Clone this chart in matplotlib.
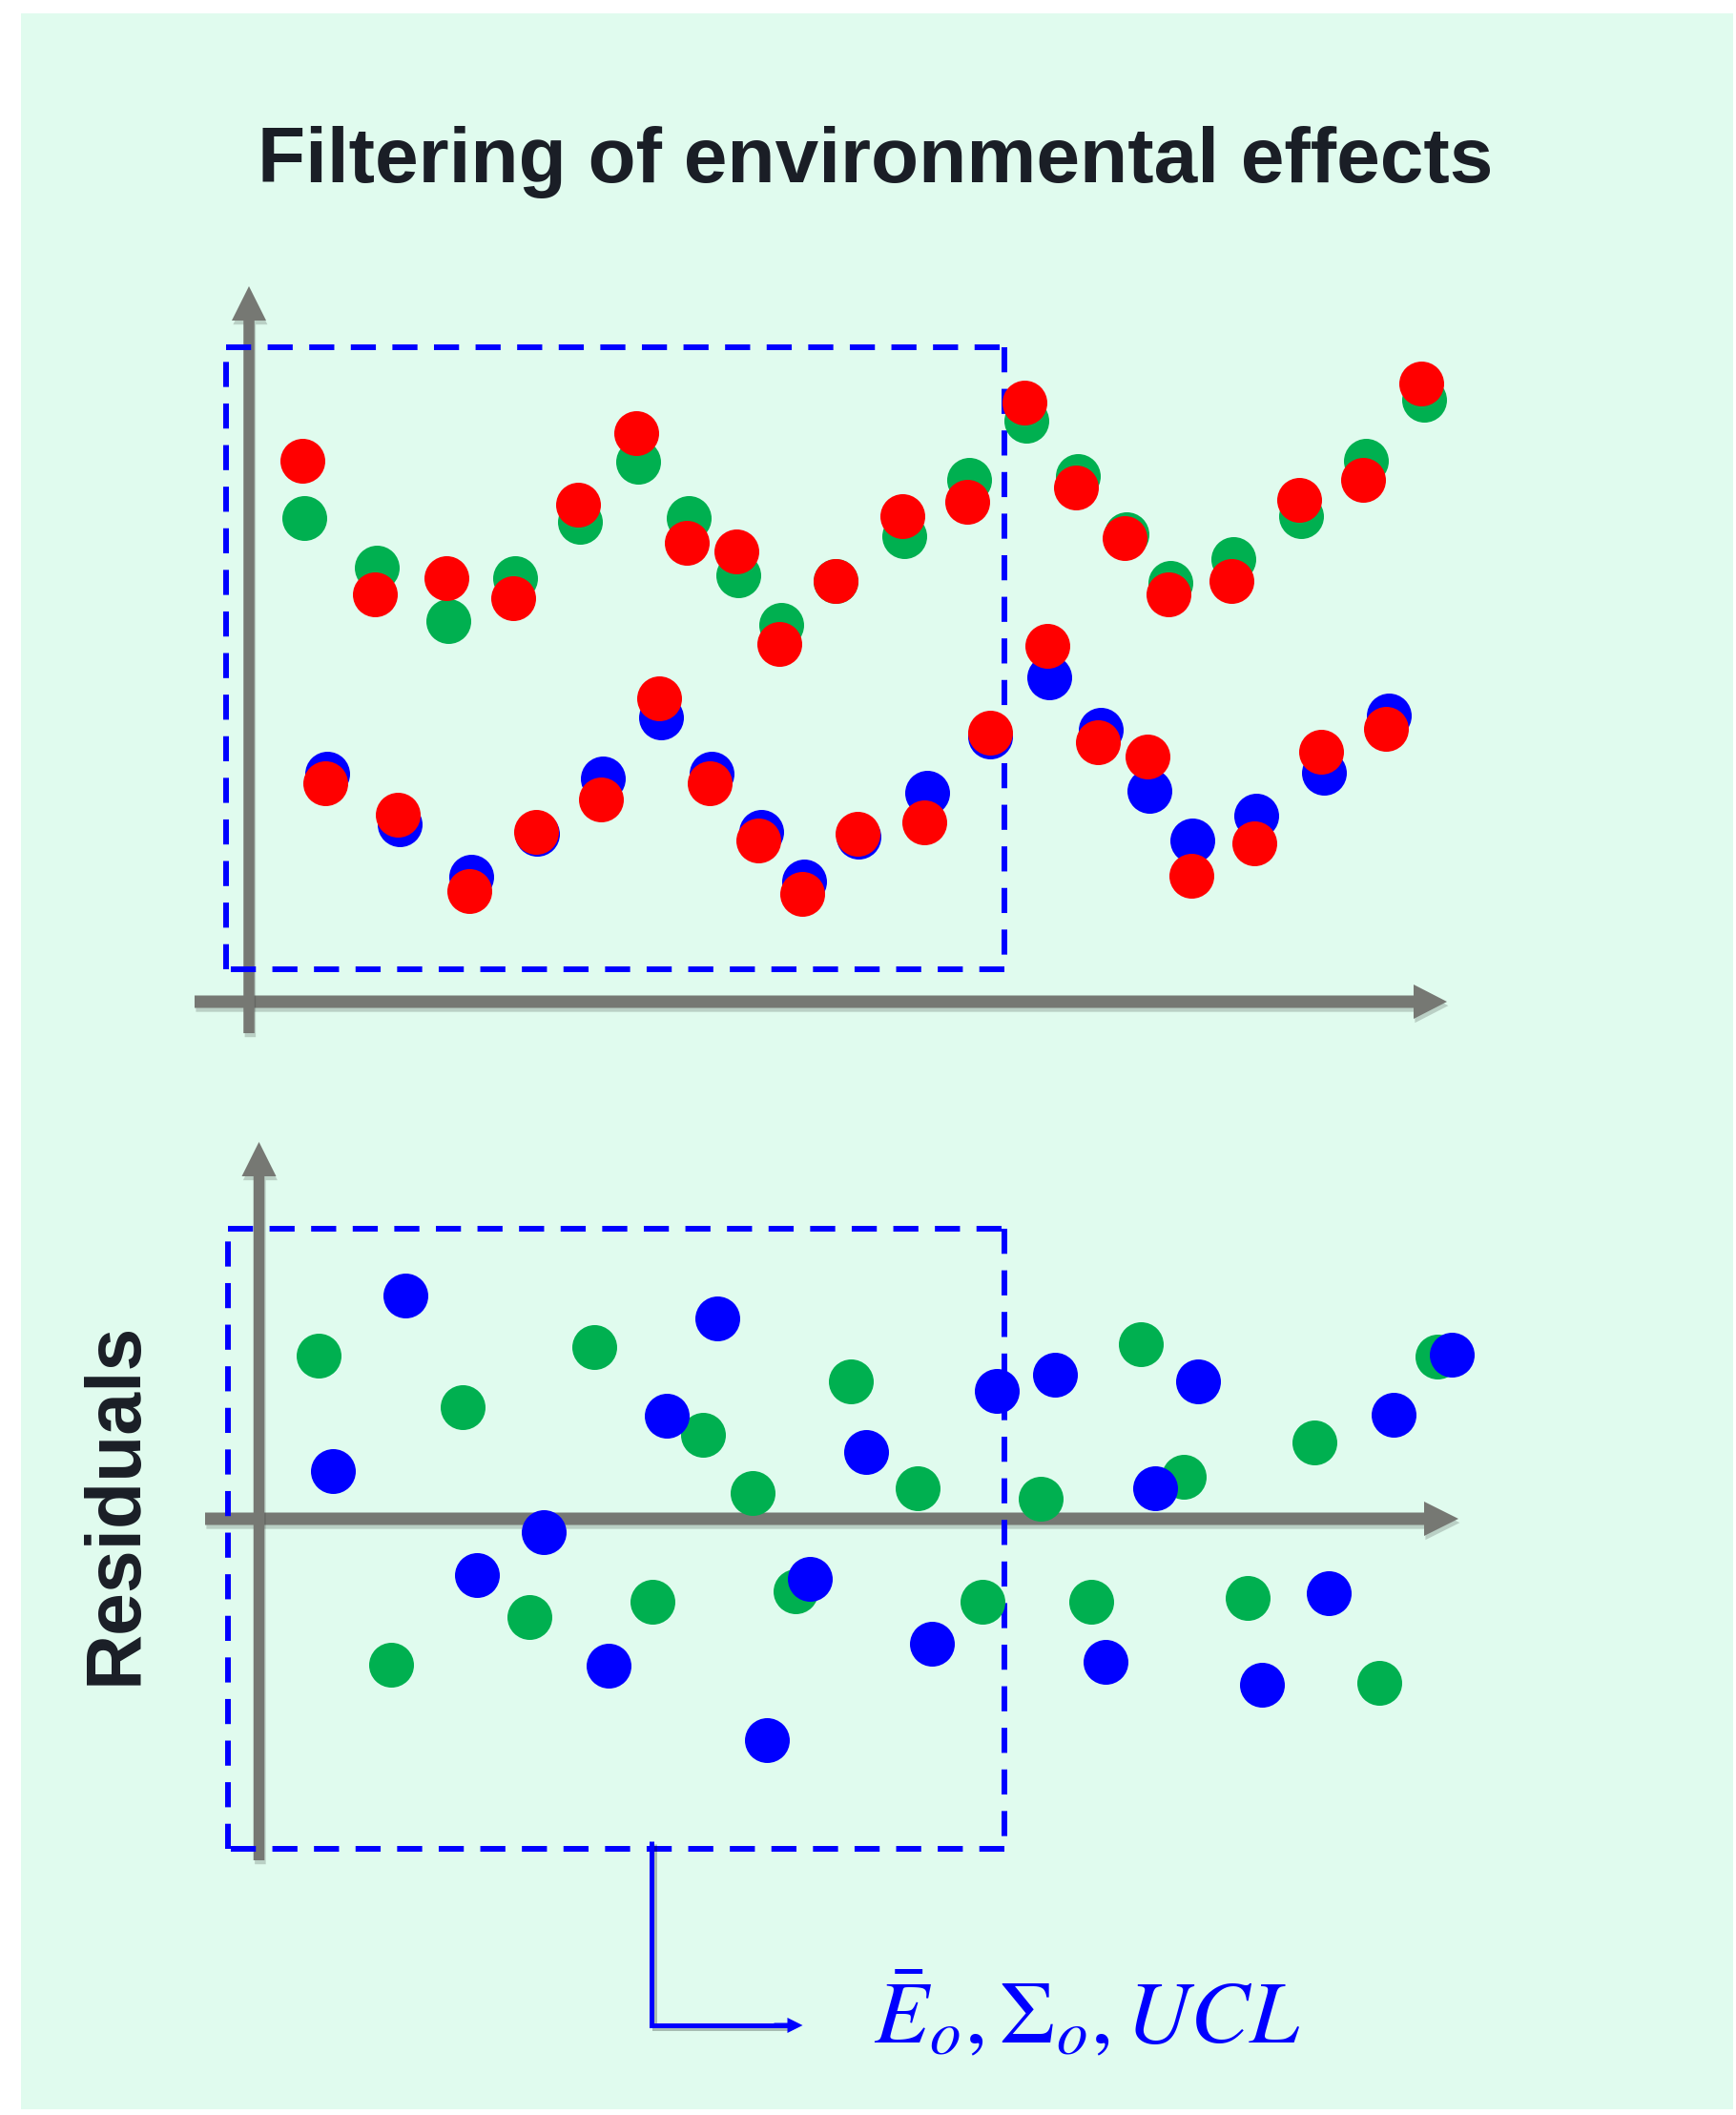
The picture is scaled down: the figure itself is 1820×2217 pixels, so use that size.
import matplotlib
matplotlib.use("Agg")
import matplotlib.pyplot as plt
import matplotlib.patheffects as pe
from matplotlib import font_manager
from matplotlib.font_manager import FontProperties
from matplotlib.patches import Rectangle, FancyArrow

W, H = 1820, 2217

# ---- data (chart units, origin at the axis crossing) ----
# top chart: measured signal, upper group (green) and its model (red)
top_green_x = [5.8, 13.4, 20.9, 27.9, 34.7, 40.8, 46.1, 51.3, 55.8, 61.5,
               68.7, 75.5, 81.5, 86.9, 92.0, 96.6, 103.2, 110.3, 117.1, 123.2]
top_green_y = [50.7, 45.5, 39.9, 44.4, 50.3, 56.6, 50.7, 44.7, 39.5, 44.1,
               48.8, 54.7, 60.9, 55.1, 49.0, 43.9, 46.4, 50.9, 56.7, 63.1]
top_red1_x = [5.6, 13.2, 20.7, 27.7, 34.5, 40.6, 45.9, 51.1, 55.6, 61.5,
              68.5, 75.3, 81.3, 86.7, 91.8, 96.4, 103.0, 110.1, 116.8, 122.9]
top_red1_y = [56.7, 42.7, 44.4, 42.3, 52.1, 59.6, 48.1, 47.2, 37.5, 44.1,
              50.9, 52.4, 62.8, 53.9, 48.6, 42.7, 44.1, 52.6, 54.7, 64.8]
# lower group (blue) and its model (red)
top_blue_x = [8.2, 15.8, 23.3, 30.2, 37.1, 43.2, 48.5, 53.7, 58.2, 63.9,
              71.1, 77.7, 83.9, 89.3, 94.4, 98.9, 105.6, 112.7, 119.5]
top_blue_y = [23.9, 18.6, 13.1, 17.6, 23.4, 29.8, 23.9, 17.8, 12.6, 17.3,
              21.9, 27.8, 34.0, 28.5, 22.1, 16.9, 19.5, 24.0, 30.0]
top_red2_x = [8.0, 15.6, 23.1, 30.1, 36.9, 43.0, 48.3, 53.4, 58.0, 63.8,
              70.8, 77.7, 83.7, 89.0, 94.2, 98.8, 105.4, 112.4, 119.2]
top_red2_y = [22.9, 19.6, 11.6, 17.8, 21.2, 31.8, 22.9, 16.9, 11.3, 17.6,
              18.8, 28.2, 37.3, 27.2, 25.7, 13.2, 16.6, 26.2, 28.6]

# bottom chart: residuals
res_green_x = [6.2, 13.8, 21.3, 28.3, 35.1, 41.2, 46.5, 51.7, 56.2, 62.0,
               69.0, 75.8, 81.9, 87.2, 92.4, 96.9, 103.6, 110.6, 117.4, 123.5]
res_green_y = [17.1, -15.3, 11.7, -10.3, 18.0, -8.7, 8.8, 2.7, -7.6, 14.4,
               3.2, -8.7, 2.1, -8.7, 18.3, 4.4, -8.3, 8.0, -17.2, 17.0]
res_blue_x = [7.7, 15.3, 22.8, 29.8, 36.6, 42.7, 48.0, 53.2, 57.7, 63.6,
              70.5, 77.3, 83.4, 88.7, 93.9, 98.4, 105.1, 112.1, 118.9, 125.0]
res_blue_y = [5.0, 23.4, -5.9, -1.4, -15.4, 10.8, 21.0, -23.2, -6.3, 7.0,
              -13.1, 13.4, 15.1, -15.0, 3.2, 14.4, -17.4, -7.8, 10.9, 17.2]

title = "Filtering of environmental effects"
ylabel = "Residuals"
stats_label = r"$\bar{E}_o,\Sigma_o,UCL$"

GREEN, RED, BLUE = "#00B050", "#FF0000", "#0000FF"
GRAY = "#767873"
BG = "#E0FBEE"
INK = "#1a1e26"

# Arial Narrow look-alike if present, otherwise plain Liberation Sans sized to width
names = {f.name for f in font_manager.fontManager.ttflist}
if "Liberation Sans Narrow" in names:
    title_fp = FontProperties(family="Liberation Sans Narrow", weight="bold", size=69)
    label_fp = FontProperties(family="Liberation Sans Narrow", weight="bold", size=66)
else:
    title_fp = FontProperties(family="Liberation Sans", weight="bold", size=59)
    label_fp = FontProperties(family="Liberation Sans", weight="bold", size=58)

fig = plt.figure(figsize=(W / 100, H / 100), dpi=100, facecolor="white")
fig.patches.append(Rectangle((22 / W, 1 - 2211 / H), (1817 - 22) / W, (2211 - 14) / H,
                             transform=fig.transFigure, facecolor=BG, edgecolor="none", zorder=-5))


def chart_axes(left, top, right, bottom, ox, oy):
    # axes box in pixels, one data unit = 10 px, origin at (ox, oy)
    ax = fig.add_axes([left / W, 1 - bottom / H, (right - left) / W, (bottom - top) / H])
    ax.set_xlim((left - ox) / 10, (right - ox) / 10)
    ax.set_ylim((oy - bottom) / 10, (oy - top) / 10)
    ax.axis("off")
    ax.patch.set_alpha(0)
    return ax


def dashed_box(ax, x0, y0, x1, y1):
    for xs, ys in [([x0, x1], [y1, y1]), ([x1, x1], [y1, y0]),
                   ([x1, x0], [y0, y0]), ([x0, x0], [y0, y1])]:
        ax.plot(xs, ys, color=BLUE, lw=4.3, dashes=(4.4, 2.9), dash_capstyle="butt", zorder=2)


shadow = [pe.SimplePatchShadow(offset=(1, -3), alpha=0.2), pe.Normal()]
dot = (47 * 0.72) ** 2

# ---- top chart ----
ax1 = chart_axes(150, 250, 1600, 1150, 261, 1050)
ax1.add_patch(FancyArrow(-5.7, 0, 131.3, 0, width=1.3, head_width=3.6, head_length=3.5,
                         length_includes_head=True, color=GRAY, lw=0, path_effects=shadow, zorder=1))
ax1.add_patch(FancyArrow(0, -3.3, 0, 78.3, width=1.15, head_width=3.6, head_length=3.6,
                         length_includes_head=True, color=GRAY, lw=0, path_effects=shadow, zorder=1))
dashed_box(ax1, -2.4, 3.4, 79.2, 68.6)
ax1.scatter(top_green_x, top_green_y, s=dot, color=GREEN, linewidths=0, zorder=3)
ax1.scatter(top_blue_x, top_blue_y, s=dot, color=BLUE, linewidths=0, zorder=3)
ax1.scatter(top_red1_x, top_red1_y, s=dot, color=RED, linewidths=0, zorder=4)
ax1.scatter(top_red2_x, top_red2_y, s=dot, color=RED, linewidths=0, zorder=4)

# ---- bottom chart ----
ax2 = chart_axes(150, 1150, 1600, 2200, 271.5, 1592)
ax2.add_patch(FancyArrow(-5.65, 0, 131.4, 0, width=1.3, head_width=3.6, head_length=3.6,
                         length_includes_head=True, color=GRAY, lw=0, path_effects=shadow, zorder=1))
ax2.add_patch(FancyArrow(0, -35.8, 0, 75.3, width=1.15, head_width=3.6, head_length=3.6,
                         length_includes_head=True, color=GRAY, lw=0, path_effects=shadow, zorder=1))
dashed_box(ax2, -3.25, -34.6, 78.15, 30.4)
ax2.scatter(res_green_x, res_green_y, s=dot, color=GREEN, linewidths=0, zorder=3)
ax2.scatter(res_blue_x, res_blue_y, s=dot, color=BLUE, linewidths=0, zorder=4)

# bracket arrow from the training window to the statistics
ax2.plot([41.15, 41.15, 55.5], [-33.8, -53.1, -53.1], color=BLUE, lw=3.6,
         solid_joinstyle="miter", solid_capstyle="butt", zorder=2,
         path_effects=[pe.SimpleLineShadow(offset=(2, -2), alpha=0.25), pe.Normal()])
ax2.add_patch(FancyArrow(54.0, -53.1, 3.0, 0, width=0.5, head_width=1.6, head_length=1.6,
                         length_includes_head=True, color=BLUE, lw=0, zorder=2))
ax2.text(64.4, -54.9, stats_label, color=BLUE, fontsize=67, ha="left", va="baseline",
         math_fontfamily="stix")

# ---- texts ----
fig.text(918 / W, 1 - 191 / H, title, fontproperties=title_fp,
         color=INK, ha="center", va="baseline")
fig.text(122 / W, 1 - 1576 / H, ylabel, fontproperties=label_fp,
         color=INK, ha="center", va="center", rotation=90)

fig.savefig("out.png", dpi=100, facecolor="white")
